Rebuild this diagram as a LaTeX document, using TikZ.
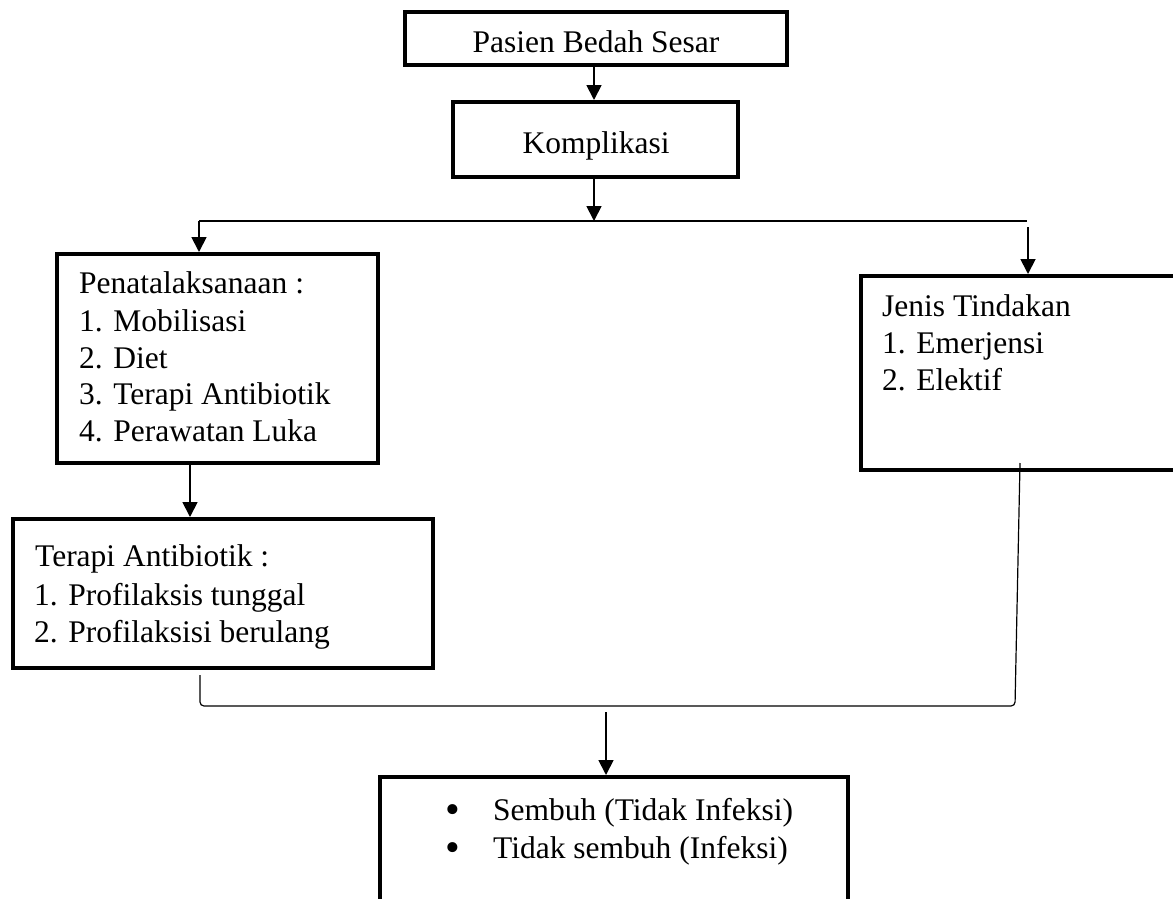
\documentclass[tikz,border=0pt]{standalone}
\usepackage{fontspec}
\setmainfont{Liberation Serif}
\usetikzlibrary{arrows.meta}
\begin{document}
\begin{tikzpicture}[x=1pt,y=-1pt,
  box/.style={draw, line width=4pt, inner sep=0pt},
  txt/.style={inner sep=0pt, anchor=base west, font=\fontsize{31.5}{37.5}\selectfont},
  ctxt/.style={inner sep=0pt, anchor=base, font=\fontsize{31.5}{37.5}\selectfont},
  bul/.style={inner sep=0pt, anchor=base, font=\fontsize{42}{44}\selectfont},
  arr/.style={line width=1.8pt, -{Triangle[width=15pt,length=15pt]}},
  thinline/.style={line width=1.2pt}]
\useasboundingbox (0,0) rectangle (1173,898);
\clip (0,0) rectangle (1173,898);
% boxes
\node[box, minimum width=382pt, minimum height=53pt] (b1) at (596,38.5) {};
\node[box, minimum width=285pt, minimum height=75pt] (b2) at (595.5,139.5) {};
\node[box, minimum width=321pt, minimum height=209pt] (pen) at (217.5,358.5) {};
\node[box, minimum width=420pt, minimum height=149pt] (ter) at (223,593.5) {};
\node[box, minimum width=339pt, minimum height=194pt] (jen) at (1030.5,373) {};
\node[box, minimum width=468pt, minimum height=163pt] (out) at (614,858.5) {};
% texts
\node[ctxt] (t1) at (596,52) {Pasien Bedah Sesar};
\node[ctxt] (t2) at (596,153) {Komplikasi};
\node[txt] (p0) at (79,293) {Penatalaksanaan :};
\node[txt] (p1) at (79,331) {1. Mobilisasi};
\node[txt] (p2) at (79,368) {2. Diet};
\node[txt] (p3) at (79,404) {3. Terapi Antibiotik};
\node[txt] (p4) at (79,441) {4. Perawatan Luka};
\node[txt] (a0) at (35,566) {Terapi Antibiotik :};
\node[txt] (a1) at (34,605) {1. Profilaksis tunggal};
\node[txt] (a2) at (34,642) {2. Profilaksisi berulang};
\node[txt] (j0) at (882,316) {Jenis Tindakan};
\node[txt] (j1) at (882,353) {1. Emerjensi};
\node[txt] (j2) at (882,390) {2. Elektif};
\node[bul] (u1) at (452.5,823) {•};
\node[bul] (u2) at (452.5,861) {•};
\node[txt] (o1) at (493,820) {Sembuh (Tidak Infeksi)};
\node[txt] (o2) at (493,858) {Tidak sembuh (Infeksi)};
% connectors
\coordinate (split) at (594,221);
\coordinate (L) at (199,221);
\coordinate (R) at (1027,221);
\coordinate (R2) at (1028,227);
\coordinate (pd) at (190,463);
\coordinate (b1s) at (594,65);
\coordinate (k1) at (200,675);
\coordinate (k2) at (200,706);
\coordinate (k3) at (1015,706);
\coordinate (k4) at (1020,463);
\coordinate (d) at (606,712);
\draw[arr] (b1s) -- (b1s |- b2.north);
\draw[arr] (b2.south -| split) -- (split);
\draw[thinline] (L) -- (R);
\draw[arr] (L) -- (L |- pen.north);
\draw[arr] (R2) -- (R2 |- jen.north);
\draw[arr] (pen.south -| pd) -- (pd |- ter.north);
\draw[thinline, rounded corners=4pt] (k1) -- (k2) -- (k3) -- (k4);
\draw[arr] (d) -- (d |- out.north);
\end{tikzpicture}
\end{document}
